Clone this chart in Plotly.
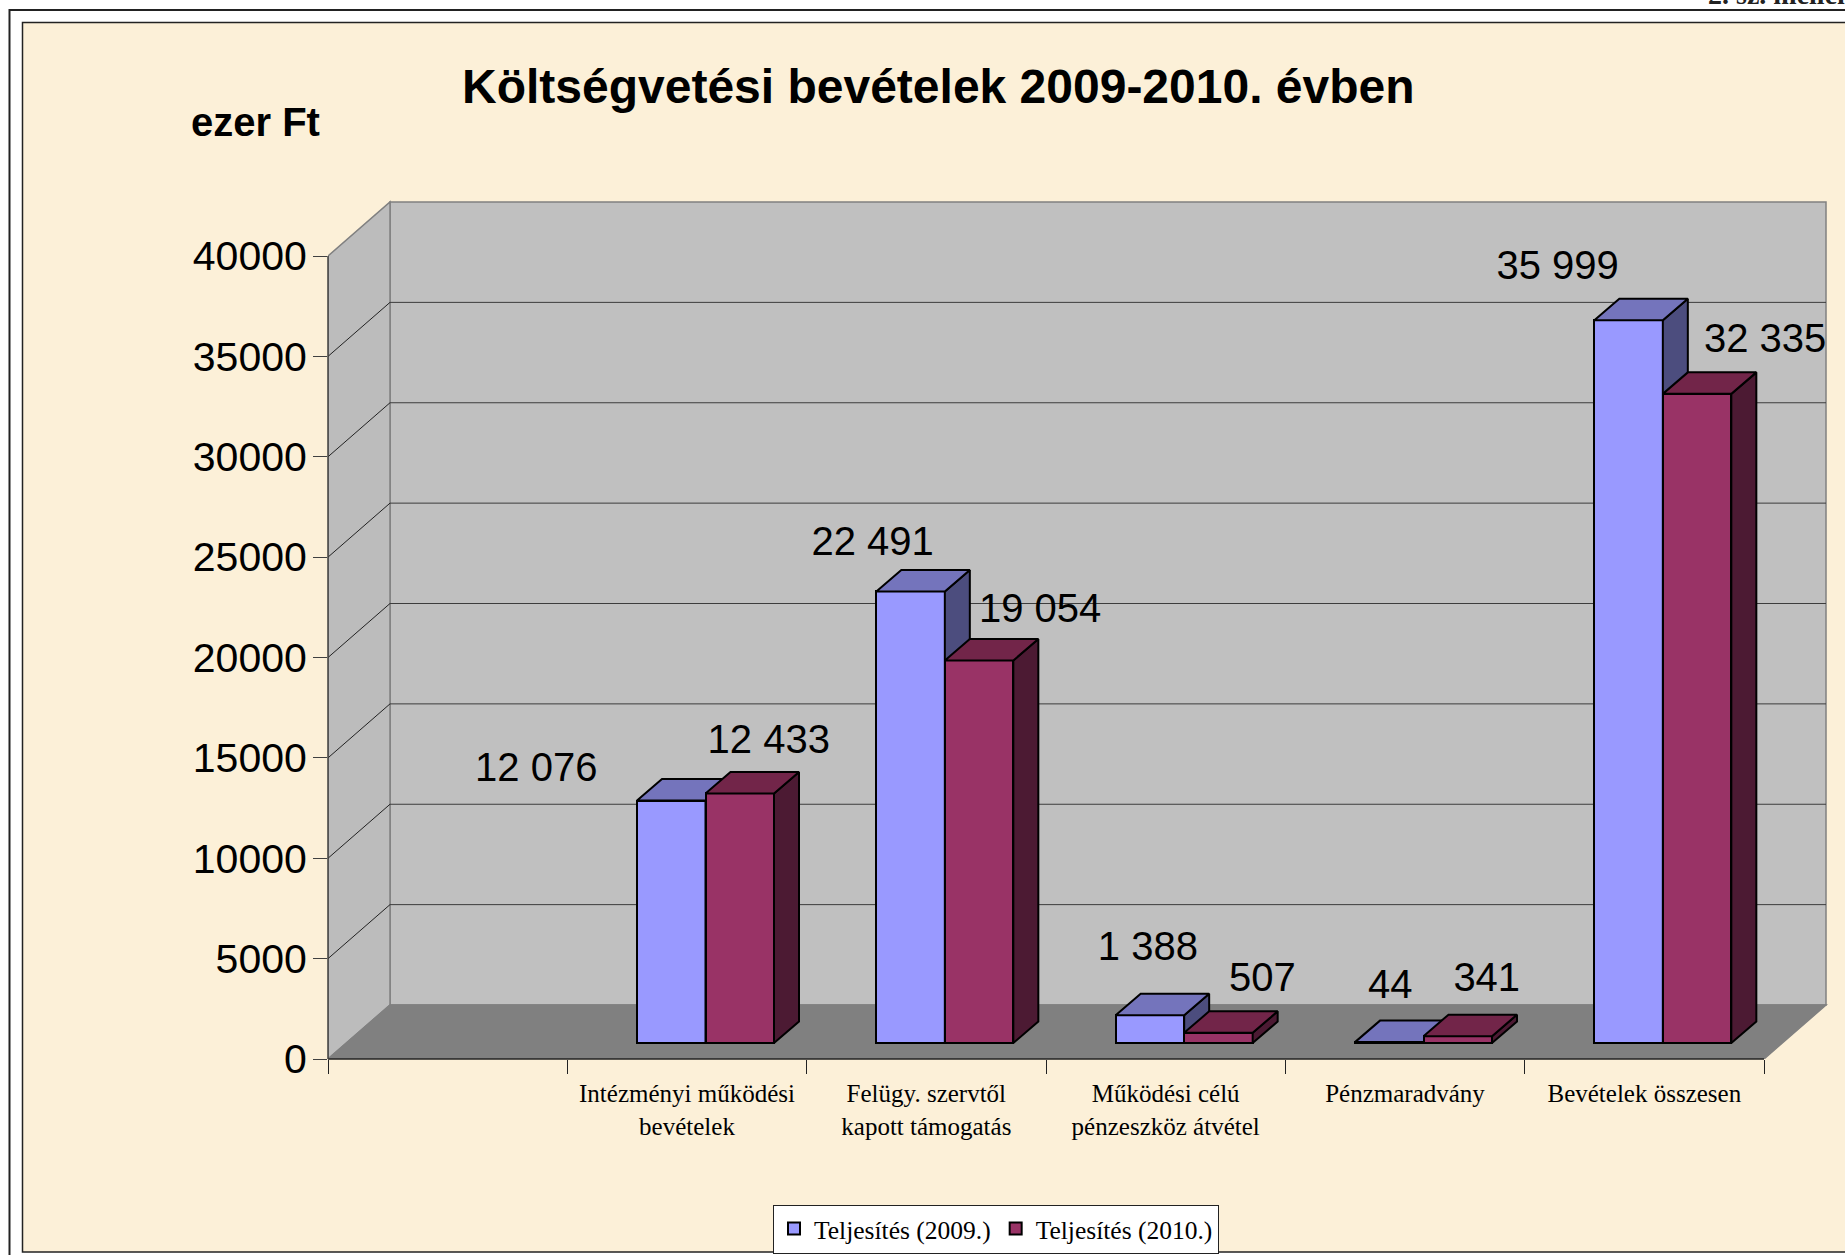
import plotly.graph_objects as go

# ---- data ----
categories = ["", "Intézményi működési<br>bevételek", "Felügy. szervtől<br>kapott támogatás",
              "Működési célú<br>pénzeszköz átvétel", "Pénzmaradvány", "Bevételek összesen"]
series_names = ["Teljesítés (2009.)", "Teljesítés (2010.)"]
values_2009 = [None, 12076, 22491, 1388, 44, 35999]
values_2010 = [None, 12433, 19054, 507, 341, 32335]
y_ticks = [0, 5000, 10000, 15000, 20000, 25000, 30000, 35000, 40000]

# ---- hand-placed data label offsets in pixels (from the top of each bar front) ----
label_offsets_2009 = [None, (-135, -30), (-38, -46), (-2, -65), (1, -54), (-71, -51)]
label_offsets_2010 = [None, (29, -50), (61, -48), (44, -52), (29, -55), (68, -52)]

# ---- geometry ----
W, H = 1845, 1255
AX_L, AX_R, AX_B, AX_T = 328, 1764, 1059, 256      # front axis frame, px
PLOT_R, PLOT_T = 1830, 199                          # plot area limits, px
CAT_PX = (AX_R - AX_L) / len(categories)
PX_Y = (AX_B - AX_T) / 40000
WALL_DX, WALL_DY = 62 / CAT_PX, 54 / PX_Y
BAR_SHIFT_X, BAR_BASE = 18.5 / CAT_PX, 16 / PX_Y
BAR_W = 68.5 / CAT_PX
BAR_DX, BAR_DY = 25 / CAT_PX, 21.5 / PX_Y
X_MAX = (PLOT_R - AX_L) / CAT_PX
Y_MAX = (AX_B - PLOT_T) / PX_Y
N = len(categories)

SERIF = "Liberation Serif"
SANS = "Liberation Sans"
FRONT = ["#9999FF", "#993366"]
TOP = ["#7474BC", "#722549"]
SIDE = ["#4C4D7E", "#4C1A33"]
PARCHMENT = "#FCF0D8"


def px(x):
    return (x - AX_L) / (PLOT_R - AX_L)


def py(y):
    return (AX_B - y) / (AX_B - PLOT_T)


def path(points):
    return "M " + " L ".join(f"{x},{y}" for x, y in points) + " Z"


shapes = [
    # sheet background and frame
    dict(type="rect", xref="paper", yref="paper", x0=px(22.5), x1=px(1850), y0=py(1252), y1=py(22.5),
         fillcolor=PARCHMENT, line=dict(color="#222222", width=1.5), layer="below"),
    dict(type="path", xref="paper", yref="paper",
         path=f"M {px(9.5)},{py(1260)} L {px(9.5)},{py(10)} L {px(1850)},{py(10)}",
         line=dict(color="#222222", width=2), layer="below"),
]

EDGE = dict(color="#808080", width=1.5)
# back wall, side wall, floor
shapes += [
    dict(type="path", xref="x", yref="y", layer="below", fillcolor="#C0C0C0", line=EDGE,
         path=path([(WALL_DX, WALL_DY), (N + WALL_DX, WALL_DY), (N + WALL_DX, 40000 + WALL_DY), (WALL_DX, 40000 + WALL_DY)])),
    dict(type="path", xref="x", yref="y", layer="below", fillcolor="#BCBCBC", line=EDGE,
         path=path([(0, 0), (WALL_DX, WALL_DY), (WALL_DX, 40000 + WALL_DY), (0, 40000)])),
    dict(type="path", xref="x", yref="y", layer="below", fillcolor="#808080", line=EDGE,
         path=path([(0, 0), (N, 0), (N + WALL_DX, WALL_DY), (WALL_DX, WALL_DY)])),
]
# gridlines on both walls
for v in y_ticks[1:-1]:
    shapes.append(dict(type="line", xref="x", yref="y", layer="below", x0=WALL_DX, x1=N + WALL_DX,
                       y0=v + WALL_DY, y1=v + WALL_DY, line=dict(color="#3C3C3C", width=1)))
    shapes.append(dict(type="line", xref="x", yref="y", layer="below", x0=0, x1=WALL_DX,
                       y0=v, y1=v + WALL_DY, line=dict(color="#222222", width=1)))
# front axis lines, only as long as the axis frame
shapes += [
    dict(type="line", xref="paper", yref="paper", x0=px(AX_L), x1=px(AX_R), y0=py(AX_B), y1=py(AX_B),
         line=dict(color="#222222", width=1.5)),
    dict(type="line", xref="paper", yref="paper", x0=px(AX_L), x1=px(AX_L), y0=py(AX_B), y1=py(AX_T),
         line=dict(color="#404040", width=1.5)),
]

fig = go.Figure()
all_values = [values_2009, values_2010]
axes = [("x", "y"), ("x2", "y2")]
label_x, label_y, label_text = [], [], []
offsets = [label_offsets_2009, label_offsets_2010]

for s, vals in enumerate(all_values):
    xa, ya = axes[s]
    centers = [i + 0.5 + BAR_SHIFT_X + (s - 0.5) * BAR_W for i in range(N)]
    fig.add_trace(go.Bar(
        x=centers, y=vals, base=BAR_BASE, width=BAR_W, name=series_names[s], xaxis=xa, yaxis=ya,
        marker=dict(color=FRONT[s], line=dict(color="black", width=2)),
        hovertemplate="%{y}<extra>" + series_names[s] + "</extra>"))
    for i, v in enumerate(vals):
        if v is None:
            continue
        l, r = centers[i] - BAR_W / 2, centers[i] + BAR_W / 2
        b, t = BAR_BASE, BAR_BASE + v
        faces = [
            (SIDE[s], [(r, b), (r + BAR_DX, b + BAR_DY), (r + BAR_DX, t + BAR_DY), (r, t), (r, b)]),
            (TOP[s], [(l, t), (r, t), (r + BAR_DX, t + BAR_DY), (l + BAR_DX, t + BAR_DY), (l, t)]),
        ]
        for color, pts in faces:
            fig.add_trace(go.Scatter(
                x=[p[0] for p in pts], y=[p[1] for p in pts], mode="lines", fill="toself",
                fillcolor=color, line=dict(color="black", width=2), xaxis=xa, yaxis=ya,
                showlegend=False, hoverinfo="skip"))
        dx, dy = offsets[s][i]
        label_x.append(centers[i] + dx / CAT_PX)
        label_y.append(t - dy / PX_Y)
        label_text.append(f"{v:,}".replace(",", " "))

fig.add_trace(go.Scatter(
    x=label_x, y=label_y, text=label_text, mode="text", textposition="middle center",
    textfont=dict(family=SANS, size=40, color="black"), xaxis="x2", yaxis="y2",
    showlegend=False, hoverinfo="skip", cliponaxis=False))

annotations = [
    dict(text="<b>Költségvetési bevételek 2009-2010. évben</b>", xref="paper", yref="paper",
         x=px(938), y=py(86), xanchor="center", yanchor="middle", showarrow=False,
         font=dict(family=SANS, size=48, color="black")),
    dict(text="<b>ezer Ft</b>", xref="paper", yref="paper", x=px(255), y=py(122),
         xanchor="center", yanchor="middle", showarrow=False,
         font=dict(family=SANS, size=40, color="black")),
    dict(text="<b>2. sz. melléklet</b>", xref="paper", yref="paper", x=px(1706), y=py(-5),
         xanchor="left", yanchor="middle", showarrow=False,
         font=dict(family=SERIF, size=28, color="#222222")),
]

fig.update_layout(
    width=W, height=H, autosize=False,
    margin=dict(l=AX_L, r=W - PLOT_R, t=PLOT_T, b=H - AX_B, pad=0),
    paper_bgcolor="white", plot_bgcolor="rgba(0,0,0,0)",
    barmode="overlay", bargap=0, showlegend=True,
    shapes=shapes, annotations=annotations,
    legend=dict(orientation="h", xref="container", yref="container", x=996 / W, y=1 - 1229 / H,
                xanchor="center", yanchor="middle",
                bgcolor="white", bordercolor="#222222", borderwidth=1,
                font=dict(family=SERIF, size=25.5, color="black"), itemwidth=30,
                traceorder="normal", itemclick=False, itemdoubleclick=False),
    xaxis=dict(range=[0, X_MAX], tickmode="array", tickvals=list(range(N + 1)), ticktext=[""] * (N + 1),
               ticks="outside", ticklen=14, tickwidth=1, tickcolor="#222222",
               showgrid=False, zeroline=False, showline=False),
    yaxis=dict(range=[0, Y_MAX], tickmode="array", tickvals=y_ticks, ticktext=[str(v) for v in y_ticks],
               ticks="outside", ticklen=14,
               tickwidth=1, tickcolor="#404040", showgrid=False, zeroline=False, showline=False,
               ticklabelstandoff=-2,
               tickfont=dict(family=SANS, size=41, color="black")),
    xaxis2=dict(range=[0, X_MAX], overlaying="x", anchor="y2", tickmode="array",
                tickvals=[i + 0.5 for i in range(N)], ticktext=categories, ticks="", ticklabelstandoff=17,
                showgrid=False, zeroline=False, showline=False,
                tickfont=dict(family=SERIF, size=25, color="black")),
    yaxis2=dict(range=[0, Y_MAX], overlaying="y", anchor="x2", visible=False),
)

fig.write_html("out.html", config={"displayModeBar": False},
               post_script="document.body.style.margin='0';document.body.style.overflow='hidden';")
